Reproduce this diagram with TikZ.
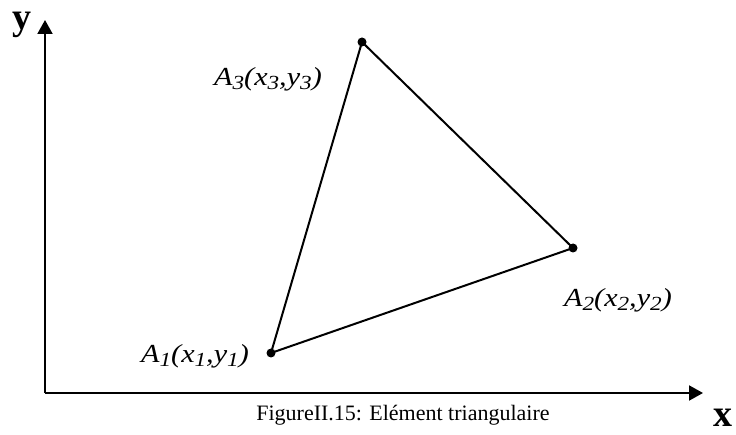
\documentclass[tikz,border=0pt]{standalone}
\usepackage{fontspec}
\setmainfont{Liberation Serif}
\usetikzlibrary{arrows.meta}
\newcommand{\lowidx}[1]{\raisebox{-4pt}{\fontsize{20}{20}\selectfont #1}}
\newcommand{\ptlabel}[1]{\scalebox{1.16}[1]{A\lowidx{#1}(x\lowidx{#1},y\lowidx{#1})}}
\begin{document}
\begin{tikzpicture}[x=1pt,y=-1pt,
  axis/.style={line width=2pt,-{Triangle[length=14pt,width=15pt]}},
  edge/.style={line width=2pt},
  vtx/.style={circle,fill=black,inner sep=0pt,minimum size=9pt},
  lbl/.style={font=\fontsize{26}{30}\selectfont\itshape,inner sep=0pt},
  axlbl/.style={font=\fontsize{38}{42}\selectfont\bfseries,inner sep=0pt}]
\useasboundingbox (0,0) rectangle (736,435);
\coordinate (O) at (45,393);
\coordinate (Ytip) at (45,20);
\coordinate (Xtip) at (703,393);
\draw[axis] (O) -- (Ytip);
\draw[axis] (O) -- (Xtip);
\node[vtx] (A1) at (271,353) {};
\node[vtx] (A2) at (573,248) {};
\node[vtx] (A3) at (362,42) {};
\draw[edge] (A1.center) -- (A2.center) -- (A3.center) -- (A1.center);
\node[lbl] (L1) at (195,356) {\ptlabel{1}};
\node[lbl] (L2) at (618,300) {\ptlabel{2}};
\node[lbl] (L3) at (268,79) {\ptlabel{3}};
\node[axlbl] (ylab) at (22,25) {y};
\node[axlbl] (xlab) at (723,418) {x};
\node[font=\fontsize{22}{26}\selectfont,inner sep=0pt] (cap) at (403,415) {FigureII.15: Elément triangulaire};
\end{tikzpicture}
\end{document}
